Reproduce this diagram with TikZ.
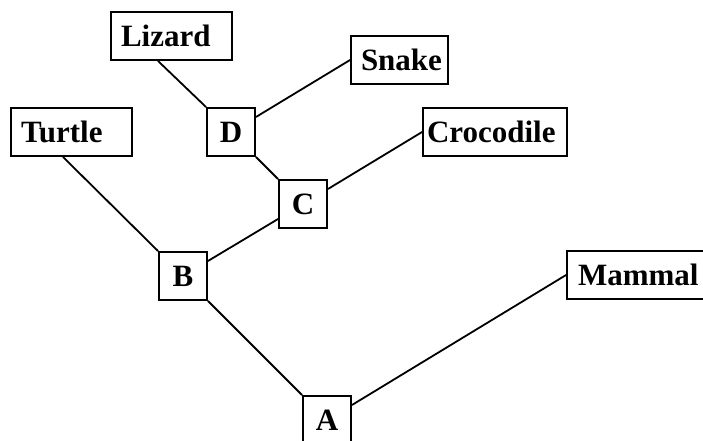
\documentclass[tikz,border=0pt]{standalone}
\usepackage{fontspec}
\setmainfont{Liberation Serif}
\begin{document}
\begin{tikzpicture}[x=1pt,y=-1pt,
  box/.style={draw, line width=1.9pt, minimum height=48pt, inner ysep=0pt,
    inner xsep=10pt, align=left, font=\fontsize{31}{33}\selectfont\bfseries},
  letterbox/.style={box, inner xsep=0pt, text width=48pt, align=center},
  conn/.style={line width=1.8pt}]
\path[use as bounding box] (0,0) rectangle (703,440);
\clip (0,0) rectangle (703,440);
\node[box, text width=101pt] (Lizard) at (171.5,36) {Lizard};
\node[box, text width=77pt] (Snake) at (399.5,60) {Snake};
\node[box, text width=101pt] (Turtle) at (71.5,132) {Turtle};
\node[letterbox] (D) at (231,132) {D};
\node[box, inner xsep=4pt, text width=136pt] (Croc) at (495,132) {Crocodile};
\node[letterbox] (C) at (303,204) {C};
\node[letterbox] (B) at (183,276) {B};
\node[box, inner xsep=11pt, text width=128pt] (Mammal) at (642,275) {Mammal};
\node[letterbox] (A) at (327,420) {A};
\draw[conn] ([xshift=-13.5pt]Lizard.south) -- (D.north west);
\draw[conn] (Snake.west) -- ([yshift=15pt]D.east);
\draw[conn] ([xshift=-8.5pt]Turtle.south) -- (B.north west);
\draw[conn] (D.south east) -- (C.north west);
\draw[conn] ([yshift=15pt]C.east) -- (Croc.west);
\draw[conn] ([yshift=-15pt]C.west) -- ([yshift=15pt]B.east);
\draw[conn] (B.south east) -- (A.north west);
\draw[conn] ([yshift=15pt]A.east) -- (Mammal.west);
\end{tikzpicture}
\end{document}
